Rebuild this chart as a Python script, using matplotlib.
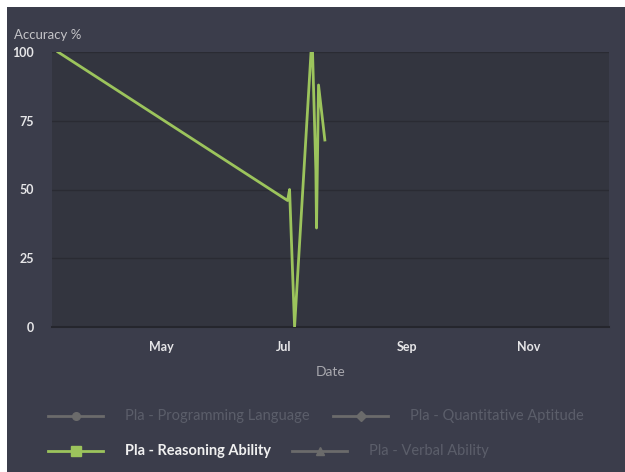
import matplotlib
matplotlib.use("Agg")
import matplotlib.pyplot as plt
import matplotlib.dates as mdates
from matplotlib.lines import Line2D
from matplotlib.patches import Rectangle
import numpy as np
from datetime import datetime

plt.rcParams['font.family'] = ['Lato', 'DejaVu Sans']

# Pla - Reasoning Ability attempts
dates = [datetime(2021, 3, 10), datetime(2021, 7, 3), datetime(2021, 7, 4),
         datetime(2021, 7, 6, 12), datetime(2021, 7, 14, 18), datetime(2021, 7, 15, 12),
         datetime(2021, 7, 17, 4), datetime(2021, 7, 17, 12), datetime(2021, 7, 18, 12),
         datetime(2021, 7, 21, 16)]
accuracy = [100, 46, 50, 0, 100, 100, 57, 36, 88, 68]

y_ticks = [0, 25, 50, 75, 100]
legend_names = ["Pla - Programming Language", "Pla - Quantitative Aptitude",
                "Pla - Reasoning Ability", "Pla - Verbal Ability"]

W, H = 625, 472
fig = plt.figure(figsize=(W / 100, H / 100), dpi=100)
fig.patch.set_facecolor('white')
fig.add_artist(Rectangle((7 / W, 0), 1, 1 - 7 / H, transform=fig.transFigure,
                         facecolor='#3b3d4b', edgecolor='none', zorder=-10))

ax = fig.add_axes([52 / W, 1 - 327 / H, (609 - 52) / W, (327 - 52) / H])
ax.set_facecolor('#33353f')
green = '#9cc45c'
ax.plot(dates, accuracy, color=green, lw=2, zorder=3)

ax.set_ylim(0, 100)
ax.set_yticks(y_ticks)
ax.set_xlim(datetime(2021, 3, 7), datetime(2021, 12, 11))
ax.xaxis.set_major_locator(mdates.MonthLocator(bymonth=[5, 7, 9, 11]))
ax.xaxis.set_major_formatter(mdates.DateFormatter('%b'))
ax.grid(axis='y', color='#2a2b33', lw=1)
for s in ['top', 'right', 'left']:
    ax.spines[s].set_visible(False)
ax.spines['bottom'].set_color('#25262d')
ax.spines['bottom'].set_linewidth(1.5)
ax.tick_params(length=0, labelcolor='#e6e6e8', labelsize=9)
ax.tick_params(axis='y', pad=13)
ax.tick_params(axis='x', pad=10)
for lab in ax.get_xticklabels() + ax.get_yticklabels():
    lab.set_fontweight('bold')

fig.text(14 / W, 1 - 35 / H, "Accuracy %", color='#c4c4c8', fontsize=9.5, va='center', ha='left')
fig.text(331 / W, 1 - 372 / H, "Date", color='#a8a8ae', fontsize=10, va='center', ha='center')

# legend (Highcharts style flow layout)
items = [
    (48, 416, 125, legend_names[0], 'o', '#6b6b6b', '#5b5e6a', 'normal'),
    (333, 416, 410, legend_names[1], 'D', '#6b6b6b', '#5b5e6a', 'normal'),
    (48, 451, 125, legend_names[2], 's', green, '#f0f0f0', 'bold'),
    (292, 451, 369, legend_names[3], '^', '#6b6b6b', '#5b5e6a', 'normal'),
]
for x0, y0, tx, name, mk, col, tcol, fw in items:
    yy = 1 - y0 / H
    fig.add_artist(Line2D([x0 / W, (x0 + 55) / W], [yy, yy], transform=fig.transFigure,
                          color=col, lw=2))
    fig.add_artist(Line2D([(x0 + 27.5) / W], [yy], transform=fig.transFigure,
                          color=col, marker=mk, markersize=7 if mk == 's' else 5.5, lw=0))
    fig.text(tx / W, yy, name, color=tcol, fontsize=10.5, fontweight=fw, va='center', ha='left')

fig.savefig('out.png', dpi=100, facecolor=fig.get_facecolor())
